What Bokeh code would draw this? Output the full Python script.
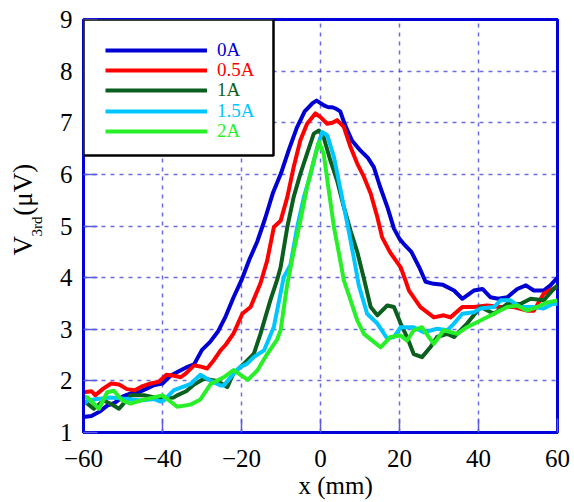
from bokeh.plotting import figure
from bokeh.models import (ColumnDataSource, Legend, LegendItem, FixedTicker,
                          BoxAnnotation, Title, Range1d)
from bokeh.embed import file_html
from bokeh.resources import INLINE

# ---------------- data ----------------
series_names = ["0A", "0.5A", "1A", "1.5A", "2A"]
series_colors = ["#0000d2", "#ff0000", "#0b5f1e", "#00c6ff", "#28f028"]

x_0A = [-60, -58, -56, -54, -52, -50, -48, -46, -44, -42, -40, -38, -36, -34, -32, -30, -28, -26, -24, -22,
        -20, -18, -16, -14, -12, -10, -8, -6, -4, -2, -1, 0, 1, 2, 3, 4, 5, 6, 7, 8, 10, 12, 13.5, 15, 17,
        18.6, 20, 21, 23, 25, 26.6, 28.7, 31, 33.8, 35.9, 38.8, 41, 43, 45, 47.3, 49.8, 52, 54, 56.5, 58.2, 60]
y_0A = [1.30, 1.32, 1.40, 1.52, 1.58, 1.70, 1.76, 1.78, 1.85, 1.92, 1.95, 2.10, 2.18, 2.26, 2.32, 2.60, 2.75,
        2.95, 3.25, 3.62, 3.95, 4.35, 4.70, 5.15, 5.65, 6.02, 6.48, 6.90, 7.22, 7.38, 7.43, 7.38, 7.33, 7.30,
        7.30, 7.27, 7.22, 7.00, 6.82, 6.65, 6.47, 6.32, 6.14, 5.78, 5.35, 4.95, 4.75, 4.66, 4.50, 4.20, 3.92,
        3.88, 3.86, 3.75, 3.59, 3.75, 3.78, 3.62, 3.59, 3.62, 3.78, 3.85, 3.75, 3.75, 3.85, 4.00]

x_05A = [-60, -58, -57, -55, -53, -51, -49, -47, -45, -43, -41, -39, -37, -35.4, -34, -32, -30.5, -28.7, -27,
         -25.3, -24, -22, -19.8, -17.7, -15.2, -13.5, -11.8, -10.1, -8.4, -6.8, -5.1, -3.4, -1.3, 0, 1.7, 3,
         4.2, 5.9, 7.6, 9.3, 11, 12.7, 14.4, 15.6, 17.7, 20.3, 21.5, 22.4, 25.3, 28.7, 31.2, 32.9, 35.9, 38.8,
         42.2, 45.6, 48.9, 52.3, 54, 56.5, 58.7, 60]
y_05A = [1.78, 1.80, 1.72, 1.85, 1.95, 1.93, 1.84, 1.82, 1.90, 1.95, 1.98, 2.12, 2.10, 2.07, 2.15, 2.30, 2.28,
         2.24, 2.40, 2.59, 2.70, 2.92, 3.30, 3.43, 3.89, 4.33, 4.98, 5.10, 5.56, 6.14, 6.66, 6.98, 7.18, 7.11,
         6.98, 7.00, 7.05, 6.92, 6.53, 6.21, 5.95, 5.63, 5.17, 4.78, 4.48, 4.20, 3.95, 3.75, 3.43, 3.23, 3.27,
         3.23, 3.43, 3.43, 3.46, 3.43, 3.43, 3.36, 3.36, 3.69, 3.78, 3.82]

x_1A = [-60, -59, -57.4, -54.9, -53, -51, -48.1, -44.7, -42, -40.5, -37.1, -36.3, -34, -32, -29.5, -26.2,
        -23.6, -22, -19.4, -16.9, -15.2, -12.7, -11, -10.1, -8.4, -6.8, -5.1, -3.4, -1.7, -0.4, 0.8, 2.5, 4.2,
        5.9, 7.6, 9.3, 11, 12.7, 14.4, 16.9, 18.6, 20.3, 21.9, 23.6, 25.7, 27.8, 29.5, 32.1, 33.8, 37.1, 40.5,
        43.9, 47.3, 50.6, 53.2, 56.5, 58.7, 60]
y_1A = [1.60, 1.56, 1.46, 1.62, 1.55, 1.46, 1.72, 1.72, 1.68, 1.66, 1.68, 1.72, 1.80, 1.93, 2.04, 2.00, 1.88,
        2.15, 2.33, 2.52, 2.91, 3.56, 3.95, 4.20, 4.98, 5.56, 6.01, 6.40, 6.79, 6.85, 6.72, 6.27, 5.88, 5.37,
        4.91, 4.50, 3.98, 3.43, 3.27, 3.46, 3.43, 3.11, 2.85, 2.52, 2.46, 2.65, 2.85, 2.91, 2.85, 3.11, 3.43,
        3.30, 3.49, 3.49, 3.59, 3.56, 3.75, 3.85]

x_15A = [-60, -59, -56.5, -53.2, -48.9, -45.6, -42.2, -40.5, -39.7, -37.1, -35, -32.9, -30.4, -27.8, -25.3,
         -24.5, -22, -20.3, -18.6, -16.9, -14.3, -11.8, -9.3, -7.6, -5.9, -4.2, -2.5, -0.8, 0.4, 1.7, 3.4, 5.1,
         6.8, 8.4, 9.7, 11.8, 14.4, 16.9, 18.6, 20.3, 23.6, 26.2, 29.5, 32.1, 33.8, 35.9, 38.8, 40.5, 43.9,
         45.6, 48.1, 50.6, 54, 56.5, 58.7, 60]
y_15A = [1.55, 1.62, 1.65, 1.68, 1.65, 1.62, 1.65, 1.60, 1.62, 1.82, 1.88, 1.94, 2.12, 2.00, 1.91, 1.91, 2.14,
         2.27, 2.33, 2.46, 2.59, 3.05, 4.01, 4.25, 4.98, 5.56, 6.01, 6.53, 6.82, 6.76, 6.34, 5.69, 5.04, 4.40,
         3.85, 3.30, 3.11, 2.82, 2.85, 3.04, 3.04, 2.94, 3.01, 2.98, 3.11, 3.30, 3.33, 3.40, 3.43, 3.56, 3.56,
         3.43, 3.43, 3.40, 3.49, 3.49]

x_2A = [-60, -59, -57.4, -56.1, -54, -52.3, -50.2, -48.1, -45.6, -42.2, -40, -38, -36.3, -32.9, -30.4, -27.8,
        -24.5, -22, -18.4, -16, -13.5, -11, -10.1, -8.4, -6.8, -5.1, -3.4, -1.7, -0.4, 0.8, 2.1, 3.4, 4.6, 5.9,
        6.8, 9.3, 11, 13.1, 15.2, 17.7, 20.3, 21.9, 23.6, 25.7, 27.4, 28.7, 31.2, 34.6, 37.1, 40.5, 43.9, 47.3,
        49.8, 52.3, 54.8, 57.4, 60]
y_2A = [1.70, 1.68, 1.56, 1.46, 1.78, 1.81, 1.62, 1.56, 1.62, 1.68, 1.72, 1.60, 1.50, 1.54, 1.64, 1.94, 2.07,
        2.21, 2.02, 2.20, 2.52, 2.80, 2.98, 3.88, 4.50, 5.10, 5.75, 6.27, 6.63, 6.40, 5.69, 4.98, 4.50, 3.95,
        3.75, 3.17, 2.91, 2.78, 2.65, 2.85, 2.88, 2.78, 2.98, 3.04, 2.85, 2.72, 2.98, 2.91, 3.04, 3.17, 3.30,
        3.43, 3.46, 3.36, 3.43, 3.52, 3.56]

x_ticks = [-60, -40, -20, 0, 20, 40, 60]
y_ticks = [1, 2, 3, 4, 5, 6, 7, 8, 9]
x_label = "x (mm)"
y_label_main = "V\u00a0\u00a0\u00a0(\u03bcV)"
y_label_sub = "3rd"

xs = [x_0A, x_05A, x_1A, x_15A, x_2A]
ys = [y_0A, y_05A, y_1A, y_15A, y_2A]

# ---------------- figure ----------------
FONT = "Liberation Serif"
FRAME_BLUE = "#0000d8"
FW, FH = 474, 413

p = figure(frame_width=FW, frame_height=FH, output_backend="svg", toolbar_location=None,
           x_range=Range1d(-60, 60), y_range=Range1d(1, 9),
           min_border_left=83, min_border_right=15, min_border_top=19, min_border_bottom=68,
           background_fill_color="white", border_fill_color="white")

p.outline_line_color = FRAME_BLUE
p.outline_line_width = 3
p.outline_line_alpha = 1

for ax in (p.xaxis[0], p.yaxis[0]):
    ax.axis_line_color = FRAME_BLUE
    ax.axis_line_width = 3
    ax.major_tick_in = 14
    ax.major_tick_out = 0
    ax.major_tick_line_color = "#5a5ae0"
    ax.major_tick_line_width = 1.5
    ax.minor_tick_line_color = None
    ax.major_label_text_font = FONT
    ax.major_label_text_font_size = "25px"
    ax.major_label_text_color = "black"

p.xaxis[0].ticker = FixedTicker(ticks=x_ticks)
p.yaxis[0].ticker = FixedTicker(ticks=y_ticks)
p.xaxis[0].major_label_standoff = 17
p.yaxis[0].major_label_standoff = 11

p.xgrid.ticker = FixedTicker(ticks=x_ticks[1:-1])
p.ygrid.ticker = FixedTicker(ticks=y_ticks[1:-1])
for g in (p.xgrid[0], p.ygrid[0]):
    g.grid_line_color = "#3a3ad8"
    g.grid_line_alpha = 0.75
    g.grid_line_width = 1.5
    g.grid_line_dash = "4 5"

# lines
renderers = []
for xv, yv, c in zip(xs, ys, series_colors):
    src = ColumnDataSource(dict(x=xv, y=yv))
    r = p.line("x", "y", source=src, line_color=c, line_width=4, line_join="round")
    renderers.append(r)

# legend box
box = BoxAnnotation(left=0, right=190, bottom=FH - 136, top=FH,
                    left_units="screen", right_units="screen", bottom_units="screen", top_units="screen",
                    fill_color="white", fill_alpha=1.0, line_color="black", line_width=2.5, line_alpha=1)
p.add_layout(box)

row_bottoms = [371, 351, 331, 310.5, 290]
for name, c, r, yb in zip(series_names, series_colors, renderers, row_bottoms):
    lg = Legend(items=[LegendItem(label=name, renderers=[r])], location=(22, yb),
                padding=0, margin=0, spacing=0, glyph_width=102, glyph_height=20, label_height=20,
                label_standoff=10, label_text_font=FONT, label_text_font_size="19px",
                label_text_color=c, border_line_alpha=0, background_fill_alpha=0)
    p.add_layout(lg)

# axis titles (as side-panel titles so they are not clipped to the frame)
p.add_layout(Title(text=x_label, align="left", offset=215, standoff=0,
                   text_font=FONT, text_font_size="25px", text_font_style="normal",
                   text_color="black"), "below")
p.add_layout(Title(text=y_label_sub, align="left", offset=196, standoff=20, vertical_align="top",
                   text_font=FONT, text_font_size="15px", text_font_style="normal",
                   text_color="black"), "left")
p.add_layout(Title(text=y_label_main, align="left", offset=177, standoff=-39, vertical_align="bottom",
                   text_font=FONT, text_font_size="27px", text_font_style="normal",
                   text_color="black"), "left")

open("out.html", "w").write(file_html(p, INLINE))
